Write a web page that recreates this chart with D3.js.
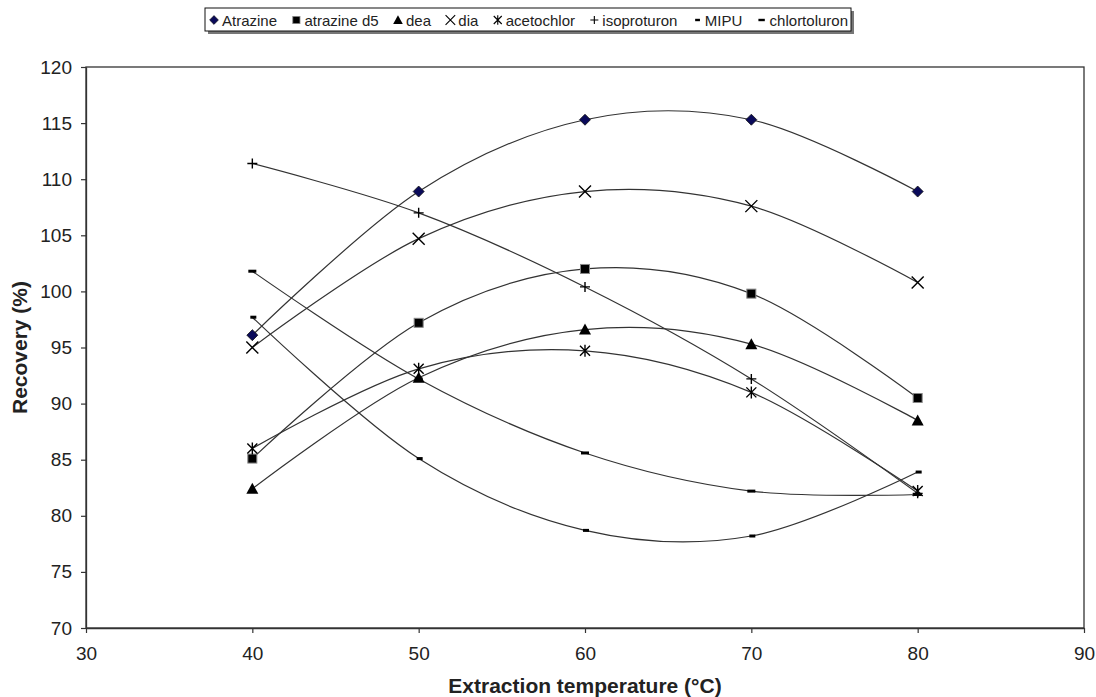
<!DOCTYPE html>
<html>
<head>
<meta charset="utf-8">
<script src="https://cdn.jsdelivr.net/npm/d3@7"></script>
<style>
  body { margin: 0; background: #fff; }
  text { font-family: Arial, "Liberation Sans", sans-serif; fill: #222; }
</style>
</head>
<body>
<svg id="chart" width="1096" height="697"></svg>
<script>
// data
const temps = [40, 50, 60, 70, 80];
const atrazine = [96.1, 108.9, 115.3, 115.3, 108.9];
const atrazineD5 = [85.1, 97.2, 102.0, 99.8, 90.5];
const dea = [82.4, 92.3, 96.6, 95.3, 88.5];
const dia = [95.0, 104.7, 108.9, 107.6, 100.8];
const acetochlor = [86.0, 93.1, 94.7, 91.0, 82.2];
const isoproturon = [111.4, 107.0, 100.4, 92.2, 82.0];
const mipu = [97.7, 85.1, 78.7, 78.2, 83.9];
const chlortoluron = [101.8, 92.2, 85.6, 82.2, 81.9];
const seriesNames = ['Atrazine', 'atrazine d5', 'dea', 'dia', 'acetochlor', 'isoproturon', 'MIPU', 'chlortoluron'];
const xTicks = [30, 40, 50, 60, 70, 80, 90];
const yTicks = [70, 75, 80, 85, 90, 95, 100, 105, 110, 115, 120];

const seriesValues = [atrazine, atrazineD5, dea, dia, acetochlor, isoproturon, mipu, chlortoluron];
const markerKinds = ['diamond', 'square', 'triangle', 'times', 'asterisk', 'plus', 'dashShort', 'dashLong'];

const margin = {top: 67, right: 12, bottom: 69, left: 86},
    width = 1096 - margin.left - margin.right,
    height = 697 - margin.top - margin.bottom;

const svg = d3.select('#chart');
const g = svg.append('g')
    .attr('transform', 'translate(' + margin.left + ',' + margin.top + ')');

const x = d3.scaleLinear().domain([30, 90]).range([0, width]);
const y = d3.scaleLinear().domain([70, 120]).range([height, 0]);

// plot frame
g.append('rect')
    .attr('width', width).attr('height', height)
    .attr('fill', 'none').attr('stroke', '#333').attr('stroke-width', 1.3);

// axes
const xAxis = g.append('g')
    .attr('transform', 'translate(0,' + height + ')')
    .call(d3.axisBottom(x).tickValues(xTicks).tickSizeInner(5).tickSizeOuter(0).tickPadding(14));
const yAxis = g.append('g')
    .call(d3.axisLeft(y).tickValues(yTicks).tickSizeInner(5).tickSizeOuter(0).tickPadding(9));
[xAxis, yAxis].forEach(a => {
    a.select('.domain').attr('stroke', '#333').attr('stroke-width', 1.3);
    a.selectAll('.tick line').attr('stroke', '#333').attr('stroke-width', 1.2);
    a.selectAll('.tick text').style('font-size', '19px').style('font-family', 'Arial, "Liberation Sans", sans-serif').attr('fill', '#222');
});

// axis titles
svg.append('text')
    .attr('x', margin.left + width / 2).attr('y', 693)
    .attr('text-anchor', 'middle')
    .style('font-size', '21px').style('font-weight', 'bold')
    .text('Extraction temperature (°C)');
svg.append('text')
    .attr('transform', 'translate(27,' + (margin.top + height / 2) + ')rotate(-90)')
    .attr('text-anchor', 'middle')
    .style('font-size', '21px').style('font-weight', 'bold')
    .text('Recovery (%)');

// curves
const line = d3.line()
    .x((d, i) => x(temps[i]))
    .y(d => y(d))
    .curve(d3.curveCardinal.tension(0));

g.selectAll('.series')
    .data(seriesValues)
    .enter()
    .append('path')
    .attr('class', 'series')
    .attr('d', d => line(d))
    .attr('fill', 'none')
    .attr('stroke', '#333')
    .attr('stroke-width', 1.2);

// marker drawing
function drawMarker(sel, kind) {
    if (kind === 'diamond') {
        sel.append('path').attr('d', 'M0,-5.5L5.5,0L0,5.5L-5.5,0Z')
            .attr('fill', '#0a0a5a').attr('stroke', '#111').attr('stroke-width', 0.8);
    } else if (kind === 'square') {
        sel.append('rect').attr('x', -4.5).attr('y', -4.5).attr('width', 9).attr('height', 9)
            .attr('fill', '#000').attr('stroke', '#888').attr('stroke-width', 1);
    } else if (kind === 'triangle') {
        sel.append('path').attr('d', 'M0,-6L6,5L-6,5Z').attr('fill', '#000');
    } else if (kind === 'times') {
        sel.append('path').attr('d', 'M-6,-6L6,6M-6,6L6,-6')
            .attr('stroke', '#000').attr('stroke-width', 1.4);
    } else if (kind === 'asterisk') {
        sel.append('path').attr('d', 'M-5,-5L5,5M-5,5L5,-5M0,-6L0,6')
            .attr('stroke', '#000').attr('stroke-width', 1.4);
    } else if (kind === 'plus') {
        sel.append('path').attr('d', 'M-5,0L5,0M0,-5L0,5')
            .attr('stroke', '#000').attr('stroke-width', 1.4);
    } else if (kind === 'dashShort') {
        sel.append('rect').attr('x', -2).attr('y', -1.5).attr('width', 6).attr('height', 3).attr('fill', '#000');
    } else if (kind === 'dashLong') {
        sel.append('rect').attr('x', -4).attr('y', -1.5).attr('width', 8).attr('height', 3).attr('fill', '#000');
    }
}

seriesValues.forEach((vals, si) => {
    g.selectAll('.m' + si)
        .data(vals)
        .enter()
        .append('g')
        .attr('class', 'm' + si)
        .attr('transform', (d, i) => 'translate(' + x(temps[i]) + ',' + y(d) + ')')
        .each(function() { drawMarker(d3.select(this), markerKinds[si]); });
});

// legend: items laid out to fill the box evenly
const boxX = 205, boxW = 646;
const legend = svg.append('g');
legend.append('rect')
    .attr('x', boxX + 3).attr('y', 11).attr('width', boxW).attr('height', 23)
    .attr('fill', '#777');
legend.append('rect')
    .attr('x', boxX).attr('y', 8).attr('width', boxW).attr('height', 23)
    .attr('fill', '#fff').attr('stroke', '#111').attr('stroke-width', 1);
const items = seriesNames.map((name, i) => {
    const item = legend.append('g');
    const mk = item.append('g').attr('transform', 'translate(4,0) scale(0.8)');
    drawMarker(mk, markerKinds[i]);
    const t = item.append('text')
        .attr('x', 12).attr('y', 5.5)
        .style('font-size', '15px')
        .attr('fill', '#111')
        .text(name);
    return {item, w: 12 + t.node().getComputedTextLength()};
});
const totalW = d3.sum(items, d => d.w);
const gap = (boxW - 8 - totalW) / (items.length - 1);
let cx = boxX + 5;
items.forEach(d => {
    d.item.attr('transform', 'translate(' + cx + ',20)');
    cx += d.w + gap;
});
</script>
</body>
</html>
